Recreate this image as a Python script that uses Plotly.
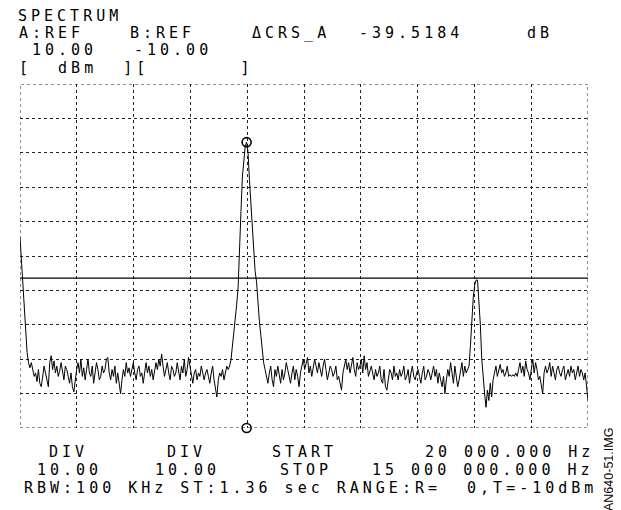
import numpy as np
import plotly.graph_objects as go

# ---------------- data ----------------
START_MHZ = 20.0
STOP_MHZ = 15000.0
REF_DBM = 10.0
DIV_DB = 10.0

# swept trace (dBm), 401 points from START to STOP
levels = [
    -34.5, -41, -48, -57, -63, -68, -71, -72.5, -71, -73,
    -75, -74, -76.5, -73, -77, -78, -75, -72, -74, -76,
    -78, -71, -69, -73, -70.5, -74, -72, -75, -73.5, -71,
    -74, -76, -72, -73, -75, -77, -74, -78, -79.5, -76,
    -73, -71, -74, -70, -75, -72.5, -76, -73, -70, -74,
    -75, -72, -77, -74, -71, -73, -76, -75, -72, -74,
    -73, -70, -69.5, -74, -76, -73, -75, -72, -77, -74,
    -78, -80, -76, -73, -75, -71, -74, -72.5, -75, -73,
    -71, -74, -76, -73, -72, -75, -74, -77, -73, -71,
    -74, -72, -75, -73, -76, -74, -71, -73, -70, -72,
    -68.5, -72, -75, -73, -71, -74, -76, -72, -73, -75,
    -74, -71, -73, -76, -72, -74, -70, -75, -73, -69.5,
    -72, -75, -77, -74, -73, -76, -74, -75, -72, -74,
    -76, -74, -73, -75, -77, -74, -72, -76, -78, -81,
    -76, -74, -75, -73, -76, -74, -72, -73,
    -72, -70, -66, -63, -60, -54, -49, -36, -27, -17, -11, -8, -6.9,
    -10, -18, -25, -34, -41, -44.5, -47.5, -54, -59, -63, -68, -71,
    -73, -75, -77, -74, -72, -76, -78,
    -73, -75, -72, -74, -77, -73, -76, -74, -71, -73,
    -75, -77, -74, -72, -76, -73, -75, -78, -74, -72,
    -70, -73, -71, -69.5, -74, -72, -75, -73, -70, -72,
    -74, -71, -73, -75, -72, -70, -73, -76, -74, -72,
    -73, -75, -74, -72, -76, -75, -77, -79, -74, -72,
    -70, -73, -71, -74, -72, -69.5, -73, -75, -71, -73,
    -72, -70, -74, -69, -73, -71, -75, -73, -72, -74,
    -76, -73, -75, -74, -72, -76, -77, -73, -78, -79,
    -75, -73, -74, -76, -72, -75, -74, -76, -73, -75,
    -74, -72, -76, -75, -73, -77, -74, -72, -75, -76,
    -74, -73, -75, -77, -74, -72, -76, -75, -73, -74,
    -76, -74, -72, -75, -73, -77, -74, -76, -78, -75,
    -80, -76, -73, -75, -71, -74, -77, -72, -75, -78,
    -76, -73, -71, -75, -72, -74, -73,
    -72, -66, -58, -52, -48.5, -47, -47, -53, -60, -70, -76, -80, -84, -79, -82,
    -77, -81, -76, -74, -72, -75, -73, -71.5, -74,
    -73, -75, -74, -72, -75, -74.5, -75, -74.5, -75, -74,
    -75, -73, -71, -74, -72, -75, -70.5, -73, -74, -76,
    -72, -70, -74, -71, -73, -76, -75, -77, -80, -74,
    -72, -74, -73, -71, -75, -72, -74, -76, -73, -72,
    -74, -75, -73, -72, -76, -74, -73, -75, -72, -74,
    -73, -76, -74, -72, -75, -73, -74, -76, -74, -78, -82,
]
freqs = np.linspace(START_MHZ, STOP_MHZ, len(levels))

peak_idx = int(np.argmax(levels))
peak_f = freqs[peak_idx]
peak_dbm = levels[peak_idx]
delta_db = -39.5184
display_line = peak_dbm + delta_db

header_rows = [
    ["SPECTRUM"],
    ["A:REF", "B:REF", "\u0394CRS_A", "-39.5184", "dB"],
    ["10.00", "-10.00"],
]
footer_rows = [
    ["DIV", "DIV", "START", "20 000.000 Hz"],
    ["10.00", "10.00", "STOP", "15 000 000.000 Hz"],
    ["RBW:100 KHz ST:1.36 sec RANGE:R=  0,T=-10dBm"],
]
unit_row = "[  dBm  ][       ]"
side_label = "AN640-51.IMG"

# ---------------- layout geometry (window pixels) ----------------
OFF = 8                      # page body margin
W, H = 621 - OFF, 510 - OFF
L, R, T, B = 20, 588, 84, 428  # plot frame in window pixels


def px(x):
    return (x - L) / (R - L)


def py(y):
    return (B - y) / (B - T)


MONO = "DejaVu Sans Mono"
FS = 15
LS = 4.0


def spaced(s):
    s = s.replace(" ", "\u00a0")
    return '<span style="letter-spacing:%.1fpx">%s</span>' % (LS, s)


fig = go.Figure()
fig.add_trace(go.Scatter(x=freqs, y=levels, mode="lines",
                         line=dict(color="black", width=1), showlegend=False,
                         hoverinfo="skip"))
fig.add_trace(go.Scatter(x=[peak_f, peak_f], y=[peak_dbm, REF_DBM - 10 * DIV_DB],
                         mode="markers", cliponaxis=False,
                         marker=dict(symbol="circle-open", size=9,
                                     color="black", line=dict(width=1.6)),
                         showlegend=False, hoverinfo="skip"))

fig.add_shape(type="line", xref="x", yref="y", x0=START_MHZ, x1=STOP_MHZ,
              y0=display_line, y1=display_line,
              line=dict(color="black", width=1.4))
fig.add_shape(type="rect", xref="x", yref="y", x0=START_MHZ, x1=STOP_MHZ,
              y0=REF_DBM - 10 * DIV_DB, y1=REF_DBM,
              line=dict(color="#222", width=1, dash="dot"))

ann = []


def add_text(s, x, y, anchor="left"):
    ann.append(dict(text=spaced(s), x=px(x), y=py(y), xref="paper", yref="paper",
                    xanchor=anchor, yanchor="middle", showarrow=False,
                    font=dict(family=MONO, size=FS, color="black")))


add_text(header_rows[0][0], 16, 16)
for s, x in zip(header_rows[1], [17, 128, 250, 357, 525]):
    add_text(s, x, 33)
for s, x in zip(header_rows[2], [30, 132]):
    add_text(s, x, 50)
add_text(unit_row, 17, 68)

for s, x in zip(footer_rows[0][:3], [47, 165, 270]):
    add_text(s, x, 452)
add_text(footer_rows[0][3], 596, 452, "right")
for s, x in zip(footer_rows[1][:3], [35, 153, 278]):
    add_text(s, x, 470)
add_text(footer_rows[1][3], 596, 470, "right")
add_text(footer_rows[2][0], 22, 488)

ann.append(dict(text=side_label, x=px(609), y=py(470), xref="paper", yref="paper",
                xanchor="center", yanchor="middle", showarrow=False, textangle=-90,
                font=dict(family="Liberation Sans", size=12.5, color="black")))

grid = dict(showgrid=True, gridcolor="#222", griddash="dot", gridwidth=1,
            showticklabels=False, ticks="", zeroline=False, showline=False,
            fixedrange=True)
fig.update_layout(
    width=W, height=H,
    margin=dict(l=L - OFF, r=(W + OFF) - R, t=T - OFF, b=(H + OFF) - B, pad=0),
    paper_bgcolor="white", plot_bgcolor="white",
    xaxis=dict(range=[START_MHZ, STOP_MHZ], tick0=START_MHZ,
               dtick=(STOP_MHZ - START_MHZ) / 10, **grid),
    yaxis=dict(range=[REF_DBM - 10 * DIV_DB, REF_DBM], tick0=REF_DBM,
               dtick=DIV_DB, **grid),
    annotations=ann,
)
fig.write_html("out.html")
